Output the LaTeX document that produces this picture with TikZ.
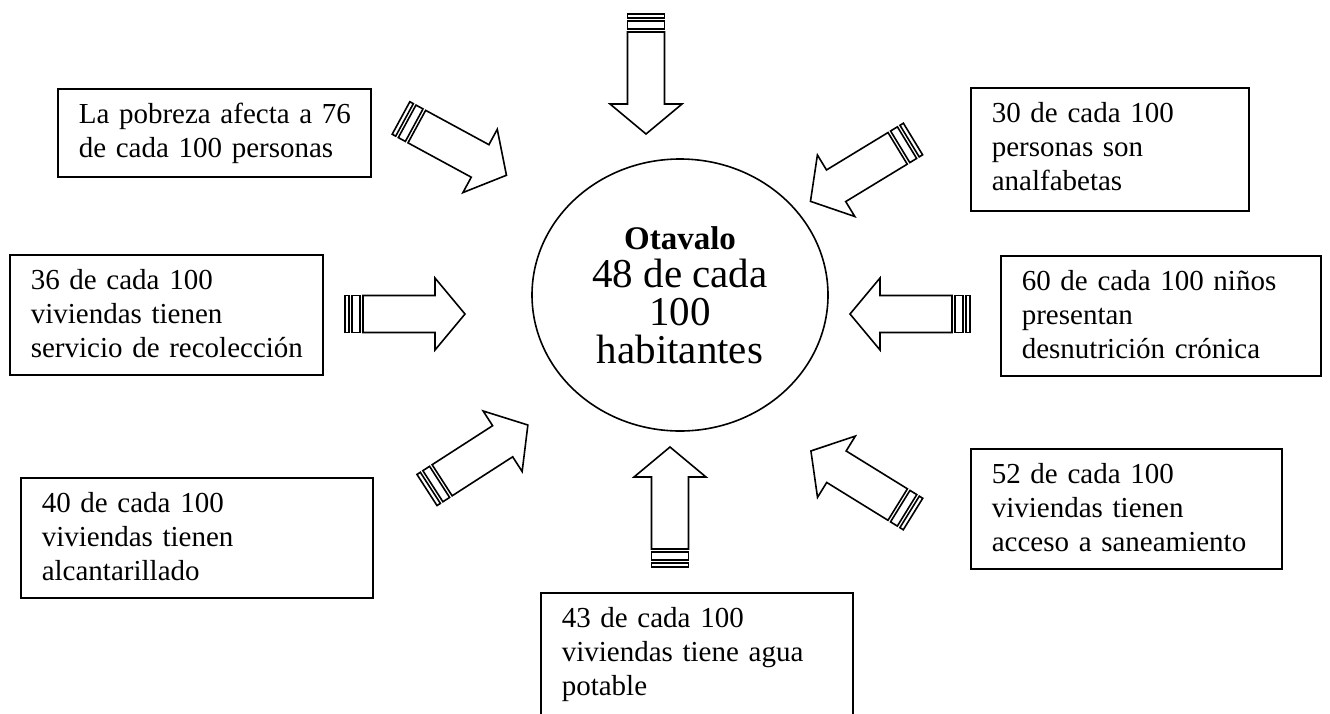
\documentclass[tikz,border=0pt]{standalone}
\usepackage{fontspec}
\setmainfont{Liberation Serif}
\usetikzlibrary{shapes.geometric}

% lines of a box, never re-wrapped
\newcommand{\renglones}[1]{\begin{tabular}[t]{@{}l@{}}#1\end{tabular}}

\tikzset{
  flecha/.pic={
    \draw (0,-18.5) rectangle (4,18.5);
    \draw (7,-18.5) rectangle (15,18.5);
    \draw (18,-18.5) -- (90,-18.5) -- (90,-36) -- (120,0) -- (90,36) -- (90,18.5) -- (18,18.5) -- cycle;
  }
}

\begin{document}
\begin{tikzpicture}[
  x=1pt, y=-1pt,
  line width=1.6pt,
  caja/.style={draw, anchor=north west, align=left, inner xsep=21pt, inner ysep=0pt, text height=35pt, font=\fontsize{29}{34}\selectfont},
  centro/.style={draw, ellipse, minimum width=296pt, minimum height=272pt, align=center, font=\fontsize{41}{38}\selectfont}
]
\clip (0,0) rectangle (1330,713);

% Centre
\node[centro] (otavalo) at (680,295) {{\fontsize{33}{38}\selectfont\bfseries Otavalo}\\48 de cada\\100\\habitantes};

% Boxes (left column, then bottom, then right column)
\node[caja, text width=271pt, text depth=53pt] (pobreza) at (57,88) {\renglones{La pobreza afecta a 76\\de cada 100 personas}};
\node[caja, text width=271pt, text depth=85pt] (recoleccion) at (9,254) {\renglones{36 de cada 100\\viviendas tienen\\servicio de recolección}};
\node[caja, text width=310pt, text depth=85pt] (alcantarillado) at (20,477) {\renglones{40 de cada 100\\viviendas tienen\\alcantarillado}};
\node[caja, text width=270pt, text depth=100pt] (agua) at (540,592) {\renglones{43 de cada 100\\viviendas tiene agua\\potable}};
\node[caja, text width=236pt, text depth=88pt] (analfabetas) at (970,87) {\renglones{30 de cada 100\\personas son\\analfabetas}};
\node[caja, text width=278pt, text depth=85pt] (desnutricion) at (1000,255) {\renglones{60 de cada 100 niños\\presentan\\desnutrición crónica}};
\node[caja, text width=269pt, text depth=85pt] (saneamiento) at (970,448) {\renglones{52 de cada 100\\viviendas tienen\\acceso a saneamiento}};

% Striped arrows toward the centre
\pic[rotate=-90] at (646,14) {flecha};
\pic[rotate=-28.5] at (401,118) {flecha};
\pic[rotate=211.3] at (913,139) {flecha};
\pic at (345,314) {flecha};
\pic[rotate=180] at (970,314) {flecha};
\pic[rotate=32.8] at (427,490) {flecha};
\pic[rotate=90] at (670,567) {flecha};
\pic[rotate=148.3] at (913,514) {flecha};

\end{tikzpicture}
\end{document}
